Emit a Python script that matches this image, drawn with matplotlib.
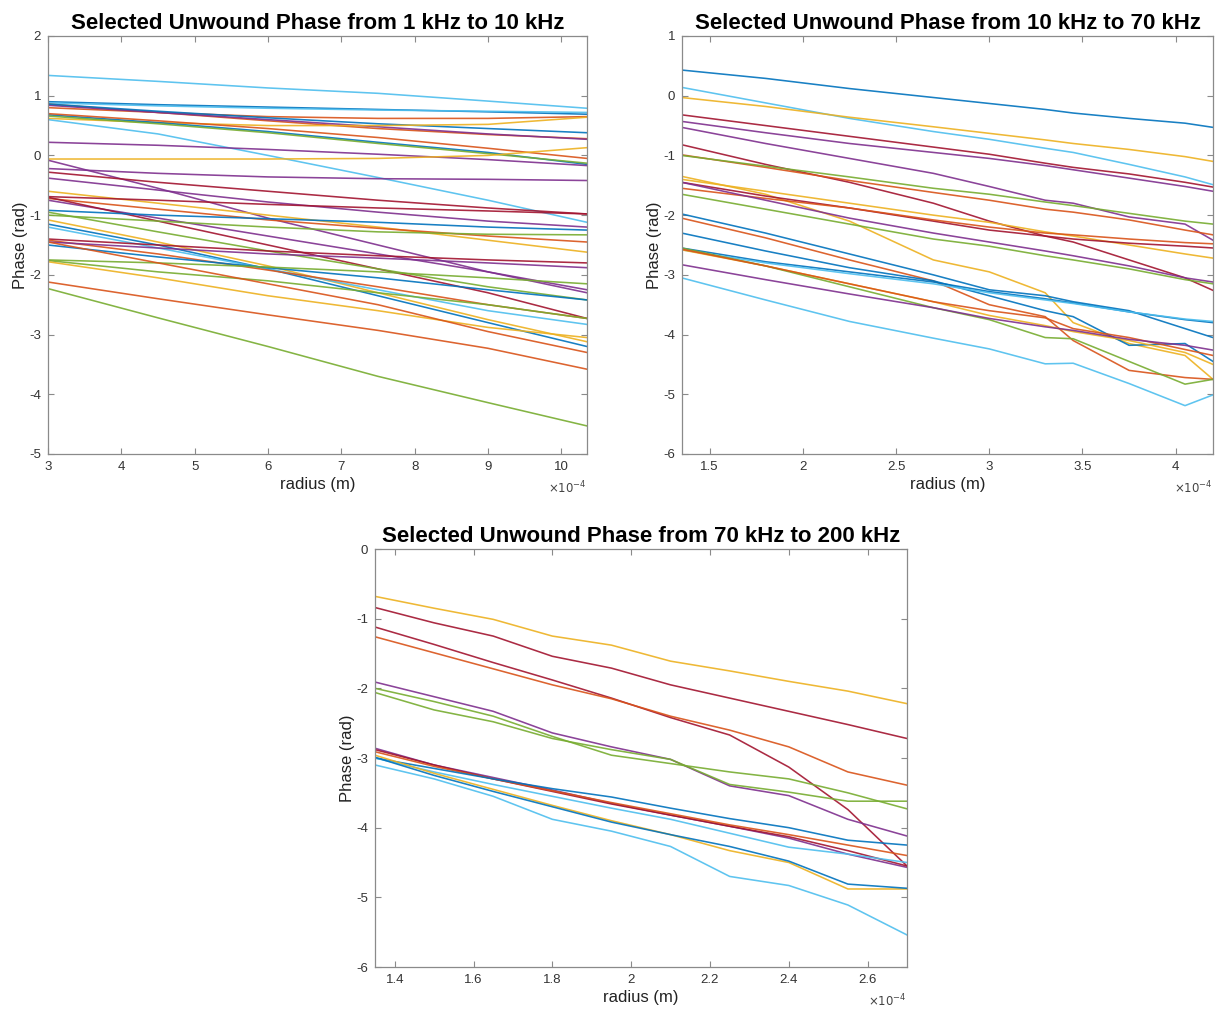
import numpy as np
import matplotlib.pyplot as plt
from matplotlib.ticker import FuncFormatter, MultipleLocator

plt.rcParams['font.family'] = ['Liberation Sans', 'DejaVu Sans']

# MATLAB default line colours
B, O, Y, P, G, C, M = '#0072BD', '#D95319', '#EDB120', '#7E2F8E', '#77AC30', '#4DBEEE', '#A2142F'

# ---- 1 kHz to 10 kHz ----
r_low = [3.0e-4, 4.5e-4, 6.0e-4, 7.5e-4, 9.0e-4, 10.35e-4]
phase_low = [
    [1.34, 1.24, 1.13, 1.04, 0.91, 0.79],
    [0.90, 0.85, 0.81, 0.77, 0.73, 0.69],
    [0.88, 0.83, 0.79, 0.76, 0.74, 0.72],
    [0.80, 0.72, 0.65, 0.62, 0.62, 0.65],
    [0.86, 0.72, 0.58, 0.45, 0.35, 0.28],
    [0.84, 0.72, 0.60, 0.48, 0.36, 0.27],
    [0.86, 0.74, 0.63, 0.53, 0.45, 0.38],
    [0.62, 0.55, 0.50, 0.50, 0.52, 0.64],
    [0.68, 0.55, 0.40, 0.22, 0.05, -0.15],
    [0.66, 0.53, 0.38, 0.20, 0.03, -0.13],
    [0.70, 0.58, 0.45, 0.30, 0.12, -0.05],
    [0.60, 0.36, 0.00, -0.37, -0.75, -1.12],
    [0.22, 0.17, 0.10, 0.02, -0.07, -0.17],
    [-0.06, -0.06, -0.06, -0.05, 0.00, 0.13],
    [-0.08, -0.55, -1.05, -1.50, -1.95, -2.30],
    [-0.22, -0.30, -0.36, -0.39, -0.40, -0.42],
    [-0.28, -0.45, -0.60, -0.75, -0.88, -0.98],
    [-0.38, -0.58, -0.78, -0.95, -1.10, -1.20],
    [-0.60, -0.80, -1.00, -1.20, -1.42, -1.62],
    [-0.69, -0.75, -0.82, -0.88, -0.93, -0.98],
    [-0.72, -0.90, -1.08, -1.22, -1.35, -1.45],
    [-0.75, -1.05, -1.35, -1.65, -1.95, -2.25],
    [-0.70, -1.10, -1.50, -1.90, -2.30, -2.73],
    [-0.92, -1.00, -1.06, -1.12, -1.20, -1.25],
    [-0.95, -1.28, -1.60, -1.90, -2.20, -2.42],
    [-1.00, -1.10, -1.20, -1.28, -1.32, -1.33],
    [-1.08, -1.45, -1.85, -2.30, -2.75, -3.12],
    [-1.15, -1.50, -1.90, -2.35, -2.80, -3.20],
    [-1.20, -1.55, -1.90, -2.25, -2.60, -2.83],
    [-1.40, -1.50, -1.60, -1.68, -1.75, -1.80],
    [-1.42, -1.65, -1.92, -2.20, -2.50, -2.73],
    [-1.45, -1.55, -1.65, -1.72, -1.80, -1.88],
    [-1.50, -1.70, -1.88, -2.05, -2.25, -2.42],
    [-1.75, -1.80, -1.87, -1.95, -2.05, -2.15],
    [-1.76, -1.95, -2.10, -2.30, -2.50, -2.73],
    [-1.78, -2.05, -2.35, -2.60, -2.88, -3.05],
    [-1.45, -1.80, -2.15, -2.50, -2.95, -3.30],
    [-2.12, -2.40, -2.67, -2.93, -3.23, -3.58],
    [-2.23, -2.72, -3.20, -3.70, -4.14, -4.53],
]
colors_low = [C, B, C, O, O, P, B, Y, B, G, O, C, P, Y, P, P, M, P, Y, M, O, P, M,
              B, G, G, Y, B, C, M, O, P, B, G, G, Y, O, O, G]

# ---- 10 kHz to 70 kHz ----
r_mid = [1.35e-4, 1.8e-4, 2.25e-4, 2.7e-4, 3.0e-4, 3.3e-4, 3.45e-4, 3.75e-4, 4.05e-4, 4.2e-4]
phase_mid = [
    [0.43, 0.29, 0.12, -0.03, -0.13, -0.23, -0.29, -0.38, -0.46, -0.53],
    [0.14, -0.12, -0.38, -0.60, -0.73, -0.88, -0.95, -1.15, -1.36, -1.49],
    [-0.03, -0.18, -0.36, -0.52, -0.63, -0.74, -0.80, -0.90, -1.02, -1.10],
    [-0.32, -0.50, -0.68, -0.86, -0.98, -1.13, -1.20, -1.31, -1.45, -1.53],
    [-0.43, -0.62, -0.80, -0.95, -1.05, -1.17, -1.24, -1.38, -1.52, -1.60],
    [-0.53, -0.80, -1.05, -1.30, -1.52, -1.75, -1.80, -2.03, -2.15, -2.42],
    [-0.82, -1.15, -1.45, -1.80, -2.10, -2.35, -2.45, -2.75, -3.05, -3.26],
    [-0.99, -1.20, -1.42, -1.62, -1.75, -1.90, -1.95, -2.08, -2.25, -2.33],
    [-1.00, -1.18, -1.36, -1.55, -1.65, -1.78, -1.84, -1.97, -2.10, -2.15],
    [-1.35, -1.65, -2.10, -2.75, -2.95, -3.30, -3.80, -4.15, -4.35, -4.75],
    [-1.40, -1.60, -1.80, -2.00, -2.12, -2.28, -2.35, -2.50, -2.65, -2.72],
    [-1.45, -1.68, -1.88, -2.10, -2.25, -2.35, -2.40, -2.47, -2.52, -2.55],
    [-1.55, -1.72, -1.88, -2.08, -2.20, -2.30, -2.33, -2.40, -2.46, -2.48],
    [-1.45, -1.75, -2.05, -2.30, -2.45, -2.60, -2.68, -2.85, -3.05, -3.12],
    [-1.65, -1.90, -2.15, -2.40, -2.52, -2.68, -2.75, -2.90, -3.08, -3.15],
    [-1.98, -2.30, -2.65, -3.00, -3.25, -3.35, -3.45, -3.60, -3.90, -4.05],
    [-2.05, -2.38, -2.75, -3.10, -3.50, -3.70, -4.10, -4.60, -4.72, -4.75],
    [-2.30, -2.60, -2.88, -3.10, -3.35, -3.60, -3.70, -4.18, -4.15, -4.45],
    [-2.55, -2.78, -2.95, -3.12, -3.28, -3.40, -3.47, -3.62, -3.75, -3.80],
    [-2.58, -2.80, -2.98, -3.15, -3.30, -3.42, -3.48, -3.62, -3.74, -3.78],
    [-2.58, -2.85, -3.15, -3.45, -3.68, -3.85, -3.95, -4.10, -4.30, -4.50],
    [-2.55, -2.85, -3.20, -3.55, -3.75, -4.05, -4.07, -4.45, -4.83, -4.75],
    [-2.57, -2.85, -3.15, -3.45, -3.60, -3.72, -3.90, -4.05, -4.25, -4.35],
    [-2.83, -3.08, -3.32, -3.55, -3.73, -3.87, -3.93, -4.08, -4.18, -4.26],
    [-3.05, -3.42, -3.78, -4.06, -4.24, -4.49, -4.48, -4.82, -5.19, -5.01],
]
colors_mid = [B, C, Y, M, P, P, M, O, G, Y, Y, M, O, P, G, B, O, B, B, C, Y, G, O, P, C]

# ---- 70 kHz to 200 kHz ----
r_high = [1.35e-4, 1.5e-4, 1.65e-4, 1.8e-4, 1.95e-4, 2.1e-4, 2.25e-4, 2.4e-4, 2.55e-4, 2.7e-4]
phase_high = [
    [-0.68, -0.85, -1.01, -1.25, -1.38, -1.61, -1.75, -1.90, -2.04, -2.22],
    [-0.84, -1.06, -1.25, -1.54, -1.71, -1.95, -2.14, -2.33, -2.52, -2.72],
    [-1.12, -1.37, -1.63, -1.88, -2.14, -2.42, -2.67, -3.13, -3.74, -4.55],
    [-1.26, -1.49, -1.72, -1.95, -2.15, -2.40, -2.60, -2.84, -3.20, -3.39],
    [-1.91, -2.12, -2.33, -2.64, -2.84, -3.02, -3.40, -3.54, -3.88, -4.12],
    [-2.00, -2.19, -2.40, -2.69, -2.96, -3.08, -3.20, -3.30, -3.50, -3.73],
    [-2.06, -2.31, -2.48, -2.72, -2.88, -3.02, -3.38, -3.49, -3.62, -3.62],
    [-2.86, -3.10, -3.28, -3.46, -3.65, -3.82, -3.98, -4.15, -4.38, -4.57],
    [-2.88, -3.10, -3.30, -3.48, -3.66, -3.82, -3.98, -4.13, -4.33, -4.55],
    [-2.91, -3.12, -3.30, -3.47, -3.64, -3.80, -3.96, -4.10, -4.25, -4.40],
    [-3.00, -3.15, -3.30, -3.44, -3.56, -3.72, -3.87, -4.00, -4.18, -4.25],
    [-3.00, -3.20, -3.38, -3.55, -3.72, -3.88, -4.08, -4.28, -4.38, -4.50],
    [-2.96, -3.22, -3.45, -3.68, -3.90, -4.10, -4.33, -4.50, -4.88, -4.88],
    [-2.99, -3.25, -3.48, -3.70, -3.92, -4.10, -4.27, -4.48, -4.81, -4.87],
    [-3.10, -3.30, -3.55, -3.88, -4.05, -4.27, -4.70, -4.83, -5.11, -5.54],
]
colors_high = [Y, M, M, O, P, G, G, P, M, O, B, C, Y, B, C]

panels = [
    ("Selected Unwound Phase from 1 kHz to 10 kHz", r_low, phase_low, colors_low,
     [48, 36, 539, 418], (3e-4, 10.35e-4), (-5, 2), 1e-4),
    ("Selected Unwound Phase from 10 kHz to 70 kHz", r_mid, phase_mid, colors_mid,
     [682, 36, 531, 418], (1.352e-4, 4.2e-4), (-6, 1), 0.5e-4),
    ("Selected Unwound Phase from 70 kHz to 200 kHz", r_high, phase_high, colors_high,
     [375, 549, 532, 418], (1.35e-4, 2.7e-4), (-6, 0), 0.2e-4),
]

W, H = 1222, 1013
fig = plt.figure(figsize=(W / 100, H / 100), dpi=100)
spine_col = '#8a8a8a'
for title, r, ph, cols, (px, py, pw, phh), xl, yl, step in panels:
    ax = fig.add_axes([px / W, 1 - (py + phh) / H, pw / W, phh / H])
    for vals, c in zip(ph, cols):
        ax.plot(r, vals, color=c, lw=1.15, alpha=0.9)
    ax.set_xlim(*xl)
    ax.set_ylim(*yl)
    ax.xaxis.set_major_locator(MultipleLocator(step))
    ax.yaxis.set_major_locator(MultipleLocator(1))
    ax.xaxis.set_major_formatter(FuncFormatter(lambda v, p: f"{v * 1e4:g}"))
    ax.yaxis.set_major_formatter(FuncFormatter(lambda v, p: f"{v:g}"))
    ax.tick_params(direction='in', top=True, right=True, length=4, width=0.8,
                   color=spine_col, labelsize=9.5, labelcolor='#333333', pad=5)
    for s in ax.spines.values():
        s.set_color(spine_col)
        s.set_linewidth(0.9)
    ax.set_title(title, fontsize=16, fontweight='bold', pad=5)
    ax.set_xlabel("radius (m)", fontsize=12, color='#222222', labelpad=3)
    ax.set_ylabel("Phase (rad)", fontsize=12, color='#222222', labelpad=1)
    ax.text(1.0, -0.082, r'$\times10^{-4}$', transform=ax.transAxes, ha='right',
            va='center', fontsize=8.5, color='#444444')

plt.savefig('out.png', dpi=100)
